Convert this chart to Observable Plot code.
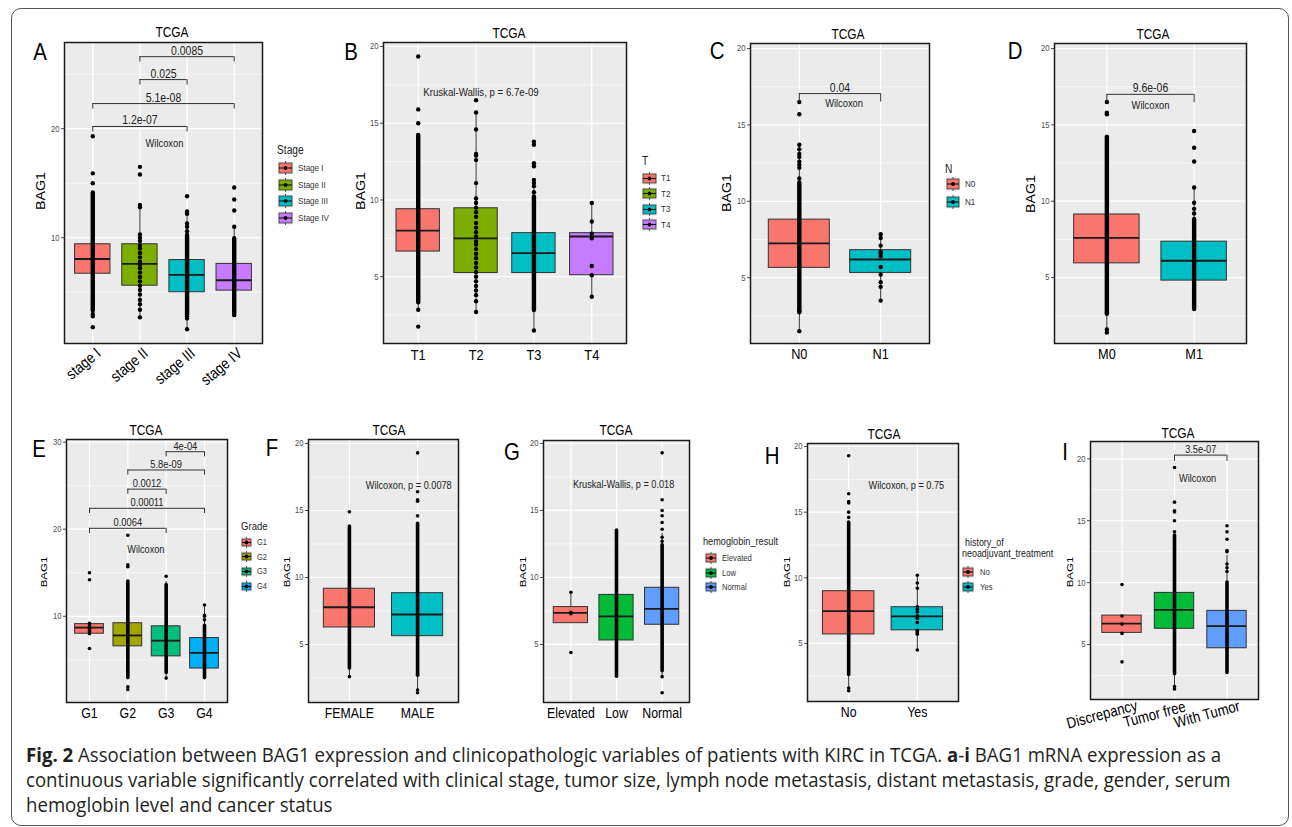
<!DOCTYPE html>
<html>
<head>
<meta charset="utf-8">
<script src="https://cdn.jsdelivr.net/npm/d3@7"></script>
<script src="https://cdn.jsdelivr.net/npm/@observablehq/plot@0.6"></script>
<style>
html,body{margin:0;padding:0;background:#fff;}
#fig{position:relative;width:1292px;height:827px;overflow:hidden;font-family:"Liberation Sans",Arial,sans-serif;color:#000;}
#border{position:absolute;left:11px;top:8px;width:1278px;height:818px;border:1px solid #555;border-radius:10px;box-sizing:border-box;}
.t{position:absolute;white-space:nowrap;transform:translate(-50%,-50%) scaleX(0.85);line-height:1;}
.lt{position:absolute;white-space:nowrap;transform:translate(0,-50%) scaleX(0.85);transform-origin:left center;line-height:1;}
.t.ylab{transform:translate(-50%,-50%) scaleX(0.85) rotate(-90deg);}
svg g[aria-label^="y-axis"] text{font-size:9px;fill:#4d4d4d;}
#caption{position:absolute;left:26px;top:741.5px;font-family:"Open Sans","Liberation Sans",sans-serif;color:#231f20;line-height:25px;white-space:nowrap;font-size:19.5px;transform-origin:left top;}
#caption b{font-weight:700;}
</style>
</head>
<body>
<div id="fig"><div id="border"></div>
<div id="caption">
<div><span id="capl1"><b>Fig. 2</b> Association between BAG1 expression and clinicopathologic variables of patients with KIRC in TCGA. <b>a</b>-<b>i</b> BAG1 mRNA expression as a</span></div>
<div>continuous variable significantly correlated with clinical stage, tumor size, lymph node metastasis, distant metastasis, grade, gender, serum</div>
<div>hemoglobin level and cancer status</div>
</div>
</div>
<script>
// ---------------- DATA ----------------
const hue4 = ["#F8766D","#7CAE00","#00BFC4","#C77CFF"];
const hue3 = ["#F8766D","#00BA38","#619CFF"];
const hue2 = ["#F8766D","#00BFC4"];
const gradeColors = ["#F8766D","#A3A500","#00BF7D","#00B0F6"];

// A: Stage
const aCats = ["stage I","stage II","stage III","stage IV"];
const aLegend = ["Stage I","Stage II","Stage III","Stage IV"];
const aQ1 = [6.7, 5.6, 5.0, 5.15];
const aMed = [8.05, 7.6, 6.6, 6.1];
const aQ3 = [9.4, 9.4, 7.95, 7.6];
const aWlo = [2.8, 2.7, 1.6, 2.9];
const aWhi = [13.4, 13.0, 12.4, 11.0];
const aDenseLo = [3.3, null, 2.9, 3.0];
const aDenseHi = [14.1, null, 10.2, 9.9];
const aPoints = [
  [1.8, 2.8, 3.0, 15.0, 15.9, 19.3],
  [2.7, 3.4, 3.9, 4.3, 4.8, 5.2, 5.6, 6.0, 6.4, 6.8, 7.2, 7.5, 7.8, 8.2, 8.6, 9.0, 9.3, 9.7, 10.0, 10.3, 12.8, 13.0, 15.8, 16.5],
  [1.6, 2.6, 2.8, 10.6, 11.0, 11.3, 12.2, 12.4, 13.8],
  [2.9, 11.0, 12.5, 13.5, 14.6]
];
const aBracketFrom = ["stage I","stage I","stage II","stage II"];
const aBracketTo = ["stage III","stage IV","stage III","stage IV"];
const aBracketY = [20.2, 22.3, 24.5, 26.6];
const aBracketLabels = ["1.2e-07","5.1e-08","0.025","0.0085"];
const aNote = "Wilcoxon";

// B: T
const bCats = ["T1","T2","T3","T4"];
const bQ1 = [6.64, 5.24, 5.24, 5.1];
const bMed = [8.0, 7.5, 6.54, 7.62];
const bQ3 = [9.4, 9.46, 7.84, 7.84];
const bWlo = [2.8, 2.7, 1.5, 3.7];
const bWhi = [13.5, 15.7, 11.3, 9.8];
const bDenseLo = [3.3, null, 2.8, null];
const bDenseHi = [14.2, null, 10.2, null];
const bPoints = [
  [1.75, 2.85, 15.0, 15.9, 19.35],
  [2.7, 3.4, 3.8, 4.1, 4.4, 4.7, 5.0, 5.3, 5.6, 5.9, 6.2, 6.5, 6.8, 7.1, 7.3, 7.6, 7.9, 8.2, 8.5, 8.9, 9.2, 9.5, 9.8, 10.1, 11.1, 12.6, 12.9, 13.0, 14.6, 15.7, 16.5],
  [1.5, 10.5, 10.9, 11.1, 11.3, 12.2, 12.4, 13.6, 13.8],
  [3.7, 5.1, 5.7, 7.5, 7.8, 8.6, 9.8]
];
const bNote = "Kruskal-Wallis, p = 6.7e-09";

// C: N
const cCats = ["N0","N1"];
const cQ1 = [5.64, 5.31];
const cMed = [7.25, 6.19];
const cQ3 = [8.8, 6.8];
const cWlo = [1.5, 3.5];
const cWhi = [13.6, 7.9];
const cDenseLo = [2.7, null];
const cDenseHi = [11.2, null];
const cPoints = [
  [1.5, 2.8, 11.5, 12.2, 12.4, 12.6, 12.9, 13.1, 13.4, 13.7, 15.7, 16.5],
  [3.5, 4.4, 4.7, 5.2, 5.7, 6.4, 6.6, 6.7, 7.1, 7.6, 7.85]
];
const cBracketFrom = ["N0"], cBracketTo = ["N1"], cBracketY = [17.05], cBracketLabels = ["0.04"];
const cNote = "Wilcoxon";

// D: M
const dCats = ["M0","M1"];
const dQ1 = [5.93, 4.8];
const dMed = [7.6, 6.1];
const dQ3 = [9.13, 7.35];
const dWlo = [1.4, 2.9];
const dWhi = [13.9, 10.9];
const dDenseLo = [2.6, 2.9];
const dDenseHi = [14.2, 8.8];
const dPoints = [
  [1.4, 1.6, 2.7, 15.7, 15.8, 16.5],
  [9.2, 9.5, 9.9, 10.9, 12.6, 13.5, 14.6]
];
const dBracketFrom = ["M0"], dBracketTo = ["M1"], dBracketY = [17.0], dBracketLabels = ["9.6e-06"];
const dNote = "Wilcoxon";

// E: Grade
const eCats = ["G1","G2","G3","G4"];
const eQ1 = [8.0, 6.55, 5.4, 4.0];
const eMed = [8.7, 7.8, 7.2, 5.8];
const eQ3 = [9.1, 9.2, 8.85, 7.5];
const eWlo = [8.0, 2.9, 2.9, 2.9];
const eWhi = [9.1, 13.0, 14.0, 11.3];
const eDenseLo = [null, 2.9, 3.5, 2.9];
const eDenseHi = [null, 14.0, 13.6, 8.9];
const ePoints = [
  [6.3, 8.0, 8.2, 8.4, 8.6, 8.8, 9.0, 9.2, 14.2, 15.0],
  [1.6, 1.9, 15.7, 15.9, 19.3],
  [2.9, 14.6],
  [9.6, 10.0, 10.1, 11.3]
];
const eBracketFrom = ["G1","G1","G2","G2","G3"];
const eBracketTo = ["G3","G4","G3","G4","G4"];
const eBracketY = [20.1, 22.4, 24.6, 26.8, 28.9];
const eBracketLabels = ["0.0064","0.00011","0.0012","5.8e-09","4e-04"];
const eNote = "Wilcoxon";

// F: gender
const fCats = ["FEMALE","MALE"];
const fQ1 = [6.27, 5.62];
const fMed = [7.78, 7.24];
const fQ3 = [9.16, 8.83];
const fWlo = [2.6, 1.4];
const fWhi = [13.5, 13.7];
const fDenseLo = [3.2, 2.7];
const fDenseHi = [13.8, 14.0];
const fPoints = [
  [2.6, 14.9],
  [1.4, 1.6, 2.7, 14.6, 15.7, 15.8, 16.4, 19.3]
];
const fNote = "Wilcoxon, p = 0.0078";

// G: hemoglobin
const gCats = ["Elevated","Low","Normal"];
const gQ1 = [6.59, 5.3, 6.47];
const gMed = [7.36, 7.1, 7.66];
const gQ3 = [7.79, 8.7, 9.23];
const gWlo = [6.59, 2.6, 2.6];
const gWhi = [8.9, 13.5, 13.3];
const gDenseLo = [null, 2.6, 3.0];
const gDenseHi = [null, 13.5, 12.4];
const gPoints = [
  [4.4, 7.3, 7.4, 8.9],
  [],
  [1.4, 2.6, 12.7, 13.0, 13.6, 14.1, 14.6, 15.0, 15.8, 19.3]
];
const gNote = "Kruskal-Wallis, p = 0.018";

// H: neoadjuvant
const hCats = ["No","Yes"];
const hQ1 = [5.69, 6.0];
const hMed = [7.46, 7.06];
const hQ3 = [8.98, 7.76];
const hWlo = [1.4, 4.5];
const hWhi = [13.9, 10.2];
const hDenseLo = [2.6, null];
const hDenseHi = [14.2, null];
const hPoints = [
  [1.4, 1.6, 14.6, 15.0, 15.7, 15.8, 16.4, 19.3],
  [4.5, 5.7, 5.8, 5.9, 6.0, 6.6, 6.9, 7.0, 7.1, 7.4, 7.6, 7.8, 9.2, 9.6, 10.2]
];
const hNote = "Wilcoxon, p = 0.75";

// I: cancer status
const iCats = ["Discrepancy","Tumor free","With Tumor"];
const iQ1 = [5.94, 6.27, 4.7];
const iMed = [6.69, 7.8, 6.48];
const iQ3 = [7.34, 9.17, 7.72];
const iWlo = [5.94, 1.6, 2.7];
const iWhi = [7.34, 13.5, 12.2];
const iDenseLo = [null, 2.6, 2.7];
const iDenseHi = [null, 13.8, 10.0];
const iPoints = [
  [3.6, 5.9, 6.65, 7.3, 9.85],
  [1.4, 1.6, 14.1, 15.0, 15.7, 15.8, 16.5, 19.3],
  [10.9, 11.2, 11.5, 12.5, 12.6, 13.5, 14.1, 14.6]
];
const iBracketFrom = ["Tumor free"], iBracketTo = ["With Tumor"], iBracketY = [20.3], iBracketLabels = ["3.5e-07"];
const iNote = "Wilcoxon";

const ticks5 = [5, 10, 15, 20], minor5 = [2.5, 7.5, 12.5, 17.5];
const ticks10 = [10, 20], minor10 = [5, 15, 25];
const ticks10e = [10, 20, 30];

// ---------------- DRAWING ----------------
const fig = document.getElementById("fig");
const SQUEEZE = 0.85; // horizontal compression of the reference's lettering

function makePanel(p) {
  const [L, T, R, B] = p.frame;
  const ml = 36, mr = 6, mt = 6, mb = 50;
  const n = p.cats.length;
  const rows = p.cats.map((c, k) => ({cat: c, i: k + 1, q1: p.q1[k], med: p.med[k], q3: p.q3[k],
    wlo: p.wlo[k], whi: p.whi[k], dlo: p.dlo[k], dhi: p.dhi[k], color: p.colors[k]}));
  const dense = rows.filter(d => d.dlo != null);
  const pts = rows.flatMap((d, k) => p.pts[k].map(v => ({i: d.i, v})));
  const idx = c => p.cats.indexOf(c) + 1;
  const br = (p.bFrom || []).map((f, k) => ({x1: idx(f), x2: idx(p.bTo[k]), y: p.bY[k], label: p.bLabels[k]}));
  const tips = br.flatMap(b => [{x: b.x1, y1: b.y - p.tip, y2: b.y}, {x: b.x2, y1: b.y - p.tip, y2: b.y}]);
  const hw = 0.375;
  const svg = Plot.plot({
    width: R - L + ml + mr, height: B - T + mt + mb,
    marginLeft: ml, marginRight: mr, marginTop: mt, marginBottom: mb,
    x: {domain: [0.4, n + 0.6], axis: null},
    y: {domain: p.domain, ticks: p.major, tickSize: 3, tickPadding: 2, label: null, tickFormat: d => String(d)},
    color: {type: "identity"},
    style: {background: "none", overflow: "visible", color: "#4d4d4d",
      fontFamily: "'Liberation Sans',Arial,sans-serif", fontSize: "9px"},
    marks: [
      Plot.frame({fill: "#EBEBEB", stroke: "none"}),
      Plot.ruleY(p.minor, {stroke: "white", strokeWidth: 0.6}),
      Plot.ruleY(p.major, {stroke: "white", strokeWidth: 1.2}),
      Plot.ruleX(rows, {x: "i", stroke: "white", strokeWidth: 1.2}),
      Plot.ruleX(rows, {x: "i", y1: "wlo", y2: "whi", stroke: "#333", strokeWidth: 1}),
      Plot.rect(rows, {x1: d => d.i - hw, x2: d => d.i + hw, y1: "q1", y2: "q3", fill: "color", stroke: "#333", strokeWidth: 1}),
      Plot.ruleY(rows, {x1: d => d.i - hw, x2: d => d.i + hw, y: "med", stroke: "#1a1a1a", strokeWidth: 1.8}),
      Plot.ruleX(dense, {x: "i", y1: "dlo", y2: "dhi", stroke: "black", strokeWidth: 2 * p.r, strokeLinecap: "round"}),
      Plot.dot(pts, {x: "i", y: "v", r: p.r, fill: "black"}),
      Plot.ruleY(br, {x1: "x1", x2: "x2", y: "y", stroke: "#333", strokeWidth: 1}),
      Plot.ruleX(tips, {x: "x", y1: "y1", y2: "y2", stroke: "#333", strokeWidth: 1}),
      Plot.text(br, {x: d => (d.x1 + d.x2) / 2, y: "y", text: "label", lineAnchor: "bottom", dy: -2, fontSize: p.bFont, fill: "#222"}),
      Plot.text([p.annot], {x: "x", y: "y", text: "text", textAnchor: p.annot.anchor || "middle", lineAnchor: "middle",
        dx: p.annot.dx || 0, fontSize: p.aFont, fill: "#222"}),
      Plot.text(rows, {x: "i", text: "cat", frameAnchor: "bottom", textAnchor: p.xAnchor || "middle",
        lineAnchor: p.xLine || "middle", rotate: p.xRotate || 0, dy: p.xDy, dx: p.xDx || 0, fontSize: p.xFont, fill: "#000"}),
      Plot.frame({stroke: "#1a1a1a", strokeWidth: 1.5})
    ]
  });
  // narrow the lettering like the reference (scale about each text's own anchor)
  svg.querySelectorAll("text").forEach(t => {
    const tr = t.getAttribute("transform");
    if (tr) t.setAttribute("transform", tr + ` scale(${SQUEEZE},1)`);
  });
  svg.style.position = "absolute";
  svg.style.left = (L - ml) + "px";
  svg.style.top = (T - mt) + "px";
  fig.appendChild(svg);
}

function addText(txt, x, y, size, cls) {
  const d = document.createElement("div");
  d.className = cls || "t";
  d.style.left = x + "px"; d.style.top = y + "px"; d.style.fontSize = size + "px";
  d.textContent = txt;
  fig.appendChild(d);
  return d;
}

function addLegend(g) {
  g.titles.forEach(t => addText(t.text, t.x, t.y, g.titleSize, "lt").style.color = "#222");
  g.labels.forEach((lab, k) => {
    const cy = g.y0 + k * g.step, kw = g.kw, kh = g.kh;
    const s = document.createElementNS("http://www.w3.org/2000/svg", "svg");
    s.setAttribute("width", kw); s.setAttribute("height", kh);
    s.style.position = "absolute"; s.style.left = g.kx + "px"; s.style.top = (cy - kh / 2) + "px"; s.style.overflow = "visible";
    s.innerHTML = `<rect x="0" y="0" width="${kw}" height="${kh}" fill="#F2F2F2"/>
      <line x1="${kw/2}" x2="${kw/2}" y1="0" y2="${kh}" stroke="#333" stroke-width="0.8"/>
      <rect x="1" y="2" width="${kw-2}" height="${kh-4}" fill="${g.colors[k]}" stroke="#333" stroke-width="0.8"/>
      <line x1="1" x2="${kw-1}" y1="${kh/2}" y2="${kh/2}" stroke="#111" stroke-width="1.1"/>
      <circle cx="${kw/2}" cy="${kh/2}" r="1.9" fill="#000"/>`;
    fig.appendChild(s);
    addText(lab, g.lx, cy, g.labelSize, "lt").style.color = "#333";
  });
}

const topRow = {r: 2.2, xFont: 15, aFont: 11, bFont: 12.3};
const botRow = {r: 1.8, xFont: 14.5, aFont: 10.8, bFont: 11};

makePanel({...topRow, cats: aCats, q1: aQ1, med: aMed, q3: aQ3, wlo: aWlo, whi: aWhi, dlo: aDenseLo, dhi: aDenseHi, pts: aPoints, colors: hue4,
  bFrom: aBracketFrom, bTo: aBracketTo, bY: aBracketY, bLabels: aBracketLabels, tip: 0.5,
  annot: {text: aNote, x: 2.52, y: 18.6}, frame: [64, 42, 262, 343], domain: [0.3, 27.9], major: ticks10, minor: minor10,
  xFont: 15.5, xRotate: -40, xAnchor: "end", xLine: "top", xDy: 3, xDx: 2});
makePanel({...topRow, cats: bCats, q1: bQ1, med: bMed, q3: bQ3, wlo: bWlo, whi: bWhi, dlo: bDenseLo, dhi: bDenseHi, pts: bPoints, colors: hue4,
  annot: {text: bNote, x: 1, y: 17.0, anchor: "start", dx: 5}, frame: [383, 42, 626, 343], domain: [0.65, 20.26], major: ticks5, minor: minor5,
  xDy: 12, aFont: 11.4});
makePanel({...topRow, cats: cCats, q1: cQ1, med: cMed, q3: cQ3, wlo: cWlo, whi: cWhi, dlo: cDenseLo, dhi: cDenseHi, pts: cPoints, colors: hue2,
  bFrom: cBracketFrom, bTo: cBracketTo, bY: cBracketY, bLabels: cBracketLabels, tip: 0.55,
  annot: {text: cNote, x: 1.55, y: 16.4}, frame: [750, 43, 929, 343], domain: [0.69, 20.33], major: ticks5, minor: minor5, xDy: 11});
makePanel({...topRow, cats: dCats, q1: dQ1, med: dMed, q3: dQ3, wlo: dWlo, whi: dWhi, dlo: dDenseLo, dhi: dDenseHi, pts: dPoints, colors: hue2,
  bFrom: dBracketFrom, bTo: dBracketTo, bY: dBracketY, bLabels: dBracketLabels, tip: 0.55,
  annot: {text: dNote, x: 1.5, y: 16.3}, frame: [1054, 43, 1246, 343], domain: [0.68, 20.33], major: ticks5, minor: minor5, xDy: 11});
makePanel({...botRow, cats: eCats, q1: eQ1, med: eMed, q3: eQ3, wlo: eWlo, whi: eWhi, dlo: eDenseLo, dhi: eDenseHi, pts: ePoints, colors: gradeColors,
  bFrom: eBracketFrom, bTo: eBracketTo, bY: eBracketY, bLabels: eBracketLabels, tip: 0.6,
  annot: {text: eNote, x: 2.47, y: 17.7}, frame: [66, 439, 227, 702], domain: [0.1, 30.3], major: ticks10e, minor: minor10, xDy: 11});
makePanel({...botRow, cats: fCats, q1: fQ1, med: fMed, q3: fQ3, wlo: fWlo, whi: fWhi, dlo: fDenseLo, dhi: fDenseHi, pts: fPoints, colors: hue2,
  annot: {text: fNote, x: 1.87, y: 16.9}, frame: [308, 439, 458, 702], domain: [0.67, 20.3], major: ticks5, minor: minor5, xDy: 11});
makePanel({...botRow, cats: gCats, q1: gQ1, med: gMed, q3: gQ3, wlo: gWlo, whi: gWhi, dlo: gDenseLo, dhi: gDenseHi, pts: gPoints, colors: hue3,
  annot: {text: gNote, x: 1, y: 16.9, anchor: "start", dx: 2}, frame: [543, 440, 689, 702], domain: [0.67, 20.22], major: ticks5, minor: minor5, xDy: 11});
makePanel({...botRow, cats: hCats, q1: hQ1, med: hMed, q3: hQ3, wlo: hWlo, whi: hWhi, dlo: hDenseLo, dhi: hDenseHi, pts: hPoints, colors: hue2,
  annot: {text: hNote, x: 1.84, y: 17.0}, frame: [807, 443, 958, 701], domain: [0.58, 20.23], major: ticks5, minor: minor5, xDy: 11});
makePanel({...botRow, cats: iCats, q1: iQ1, med: iMed, q3: iQ3, wlo: iWlo, whi: iWhi, dlo: iDenseLo, dhi: iDenseHi, pts: iPoints, colors: hue3,
  bFrom: iBracketFrom, bTo: iBracketTo, bY: iBracketY, bLabels: iBracketLabels, tip: 0.5, bFont: 10.8,
  annot: {text: iNote, x: 2.44, y: 18.4}, frame: [1090, 441, 1258, 699], domain: [0.56, 21.4], major: ticks5, minor: minor5,
  xFont: 15.5, xRotate: -15, xDy: 15, xDx: -20});

// Titles, letters, y labels
const titles = [[172,32],[509,33],[848,34],[1153,34],[146,430],[389,430],[616,430],[884,434],[1178,433]];
titles.forEach(([x, y]) => addText("TCGA", x, y, 14));
const letters = [["A",40,52],["B",351,52],["C",717,51],["D",1015,51],["E",39,449],["F",272,448],["G",512,452],["H",772,456],["I",1065,452]];
letters.forEach(([l, x, y]) => addText(l, x, y, 24));
const ylabs = [[41,191,14.2],[361,191,14.2],[727,193,14.2],[1031,194,14.2],[44,572,11.5],[287,572,11.5],[523,572,11.5],[787,572,11.5],[1070,572,11.5]];
ylabs.forEach(([x, y, s]) => addText("BAG1", x, y, s, "t ylab"));

// Legends
addLegend({titles: [{text: "Stage", x: 277, y: 150}], titleSize: 12, labels: aLegend, colors: hue4, y0: 168, step: 16.7, kx: 278, kw: 15, kh: 14, lx: 298, labelSize: 9.5});
addLegend({titles: [{text: "T", x: 642, y: 161}], titleSize: 12, labels: bCats, colors: hue4, y0: 178, step: 15.5, kx: 642, kw: 15, kh: 13, lx: 661, labelSize: 9.5});
addLegend({titles: [{text: "N", x: 945, y: 169}], titleSize: 12, labels: cCats, colors: hue2, y0: 184, step: 18, kx: 946, kw: 14, kh: 14, lx: 965, labelSize: 9.5});
addLegend({titles: [{text: "Grade", x: 241, y: 527}], titleSize: 11.3, labels: eCats, colors: gradeColors, y0: 542, step: 14.7, kx: 241, kw: 11, kh: 11, lx: 257, labelSize: 8.8});
addLegend({titles: [{text: "hemoglobin_result", x: 703, y: 541}], titleSize: 10.8, labels: gCats, colors: hue3, y0: 558, step: 14.5, kx: 705, kw: 12, kh: 12, lx: 722, labelSize: 9});
addLegend({titles: [{text: "history_of", x: 965, y: 542}, {text: "neoadjuvant_treatment", x: 962, y: 553}], titleSize: 10.5, labels: hCats, colors: hue2, y0: 572, step: 15, kx: 962, kw: 12, kh: 12, lx: 980, labelSize: 9});

// Fit caption width by horizontal scaling (keeps glyph height)
const cap = document.getElementById("caption");
function fitCaption() {
  cap.style.transform = "none";
  const w = document.getElementById("capl1").getBoundingClientRect().width;
  if (w > 0) cap.style.transform = `scaleX(${1195 / w})`;
}
fitCaption();
if (document.fonts && document.fonts.ready) document.fonts.ready.then(fitCaption);
</script>
</body>
</html>
